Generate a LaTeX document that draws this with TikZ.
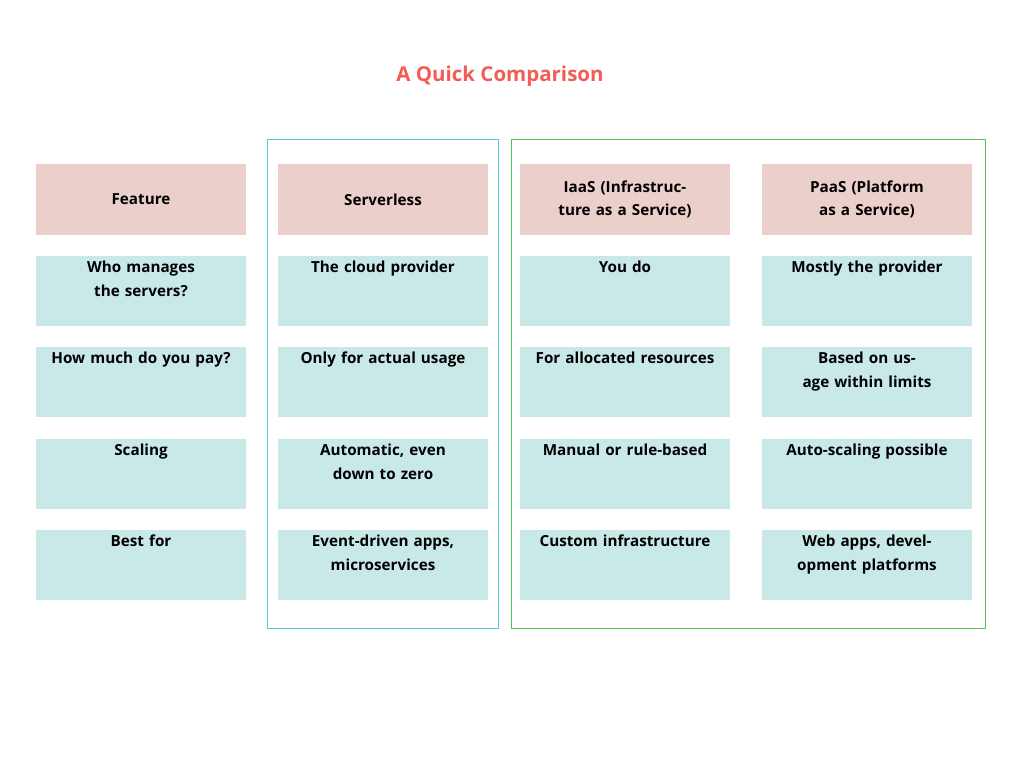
\documentclass[tikz,border=0pt]{standalone}
\usepackage{fontspec}
\setmainfont{Open Sans}
\definecolor{headfill}{HTML}{EBCFCA}
\definecolor{bodyfill}{HTML}{C9E8E8}
\definecolor{titlered}{HTML}{F25C54}
\definecolor{cyanline}{HTML}{5BC8D6}
\definecolor{greenline}{HTML}{4CC94C}
\tikzset{
  cell/.style={text width=5.7cm, align=center, font=\fontsize{13}{20}\selectfont\bfseries, inner sep=0pt},
}
\begin{document}
\begin{tikzpicture}[x=0.03cm, y=-0.03cm]
  \useasboundingbox (0,0) rectangle (1024,768);
  \node[text=titlered, font=\fontsize{17.5}{20}\selectfont\bfseries] (title) at (500,76) {A Quick Comparison};
  % group frames
  \draw[cyanline, line width=0.6pt] (267,139) rectangle (498,628);
  \draw[greenline, line width=0.6pt] (511,139) rectangle (985,628);
  % header row
  \foreach \x/\name/\txt in {36/hfeat/Feature, 278/hserv/Serverless,
      520/hiaas/{IaaS (Infrastructure as a Service)}, 762/hpaas/{PaaS (Platform as a Service)}} {
    \fill[headfill] (\x,164) rectangle ++(210,71);
    \node[cell] (\name) at (\x+105,199.5) {\txt};
  }
  % body rows
  \foreach \y/\r/\a/\b/\c/\d in {
      256/1/{Who manages the servers?}/{The cloud provider}/{You do}/{Mostly the provider},
      347/2/{How much do you pay?}/{Only for actual usage}/{For allocated resources}/{Based on usage within limits},
      439/3/{Scaling}/{Automatic, even down to zero}/{Manual or rule-based}/{Auto-scaling possible},
      530/4/{Best for}/{Event-driven apps, microservices}/{Custom infrastructure}/{Web apps, development platforms}} {
    \foreach \x/\txt in {36/\a, 278/\b, 520/\c, 762/\d} {
      \fill[bodyfill] (\x,\y) rectangle ++(210,70);
      \node[cell, anchor=north] (c\r-\x) at (\x+105,\y+5) {\txt};
    }
  }
\end{tikzpicture}
\end{document}
